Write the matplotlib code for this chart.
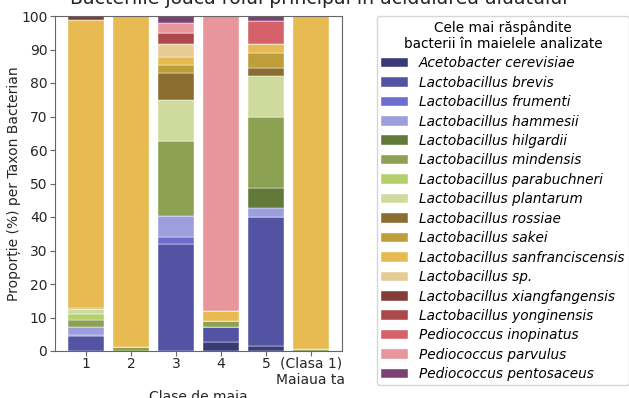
import numpy as np
import matplotlib
matplotlib.use("Agg")
import matplotlib.pyplot as plt

# clase de maia (ultima coloana = maiaua ta)
clase = ["1", "2", "3", "4", "5", "(Clasa 1)\nMaiaua ta"]

specii = [
    "Acetobacter cerevisiae",
    "Lactobacillus brevis",
    "Lactobacillus frumenti",
    "Lactobacillus hammesii",
    "Lactobacillus hilgardii",
    "Lactobacillus mindensis",
    "Lactobacillus parabuchneri",
    "Lactobacillus plantarum",
    "Lactobacillus rossiae",
    "Lactobacillus sakei",
    "Lactobacillus sanfranciscensis",
    "Lactobacillus sp.",
    "Lactobacillus xiangfangensis",
    "Lactobacillus yonginensis",
    "Pediococcus inopinatus",
    "Pediococcus parvulus",
    "Pediococcus pentosaceus",
]

# proportii (%), cate o lista pe specie (clase 1..5, maiaua ta)
acetobacter_cerevisiae = [0.0, 0.0, 0.0, 2.6, 1.6, 0.0]
lb_brevis = [4.5, 0.0, 31.9, 4.7, 38.5, 0.0]
lb_frumenti = [0.3, 0.0, 2.0, 0.0, 0.0, 0.0]
lb_hammesii = [2.3, 0.0, 6.5, 0.0, 2.6, 0.0]
lb_hilgardii = [0.0, 0.0, 0.0, 0.0, 6.0, 0.0]
lb_mindensis = [2.3, 1.3, 22.4, 1.7, 21.1, 0.5]
lb_parabuchneri = [1.5, 0.0, 0.0, 0.0, 0.0, 0.0]
lb_plantarum = [1.6, 0.0, 12.1, 0.0, 12.2, 0.0]
lb_rossiae = [0.0, 0.0, 8.0, 0.0, 2.4, 0.0]
lb_sakei = [0.2, 0.0, 2.5, 0.0, 4.6, 0.0]
lb_sanfranciscensis = [86.2, 98.7, 2.4, 2.9, 2.7, 99.5]
lb_sp = [0.0, 0.0, 3.8, 0.0, 0.0, 0.0]
lb_xiangfangensis = [1.1, 0.0, 0.0, 0.0, 0.0, 0.0]
lb_yonginensis = [0.0, 0.0, 3.3, 0.0, 0.0, 0.0]
pd_inopinatus = [0.0, 0.0, 0.0, 0.0, 6.8, 0.0]
pd_parvulus = [0.0, 0.0, 2.9, 88.1, 0.0, 0.0]
pd_pentosaceus = [0.0, 0.0, 2.2, 0.0, 1.5, 0.0]

valori = [
    acetobacter_cerevisiae, lb_brevis, lb_frumenti, lb_hammesii, lb_hilgardii,
    lb_mindensis, lb_parabuchneri, lb_plantarum, lb_rossiae, lb_sakei,
    lb_sanfranciscensis, lb_sp, lb_xiangfangensis, lb_yonginensis,
    pd_inopinatus, pd_parvulus, pd_pentosaceus,
]

culori = plt.get_cmap("tab20b").colors

fig = plt.figure(figsize=(6.29, 3.98), dpi=100)
ax = fig.add_axes([55 / 629, 1 - 351 / 398, 287 / 629, 335 / 398])

x = np.arange(len(clase))
baza = np.zeros(len(clase))
for i, (nume, v) in enumerate(zip(specii, valori)):
    v = np.array(v)
    ax.bar(x, v, 0.8, bottom=baza, color=culori[i], label=nume,
           edgecolor="white", linewidth=0.3)
    baza += v

ax.set_ylim(0, 100)
ax.set_yticks(range(0, 101, 10))
ax.set_xticks(x)
ax.set_xticklabels(clase, fontsize=10)
ax.tick_params(colors="0.15", labelsize=10)
ax.tick_params(axis="x", pad=0.5)
ax.tick_params(axis="y", pad=2)
for s in ax.spines.values():
    s.set_color("0.4")
ax.tick_params(axis="both", color="0.4")
ax.set_xlabel("Clase de maia", fontsize=10, color="0.15", labelpad=2)
ax.set_ylabel("Proporție (%) per Taxon Bacterian", fontsize=10, color="0.15", labelpad=0)

leg = ax.legend(title="Cele mai răspândite\nbacterii în maielele analizate",
                loc="upper left", bbox_to_anchor=(1.122, 1.0), borderaxespad=0,
                title_fontsize=9.8, prop={"style": "italic", "size": 9.8},
                labelspacing=0.4, borderpad=0.3)
leg.get_title().set_multialignment("center")

fig.text(0.507, 1 - 4 / 398, "Bacteriile joacă rolul principal în acidularea aluatului",
         ha="center", va="baseline", fontsize=13.6, color="0.15")

fig.savefig("out.png", dpi=100)
